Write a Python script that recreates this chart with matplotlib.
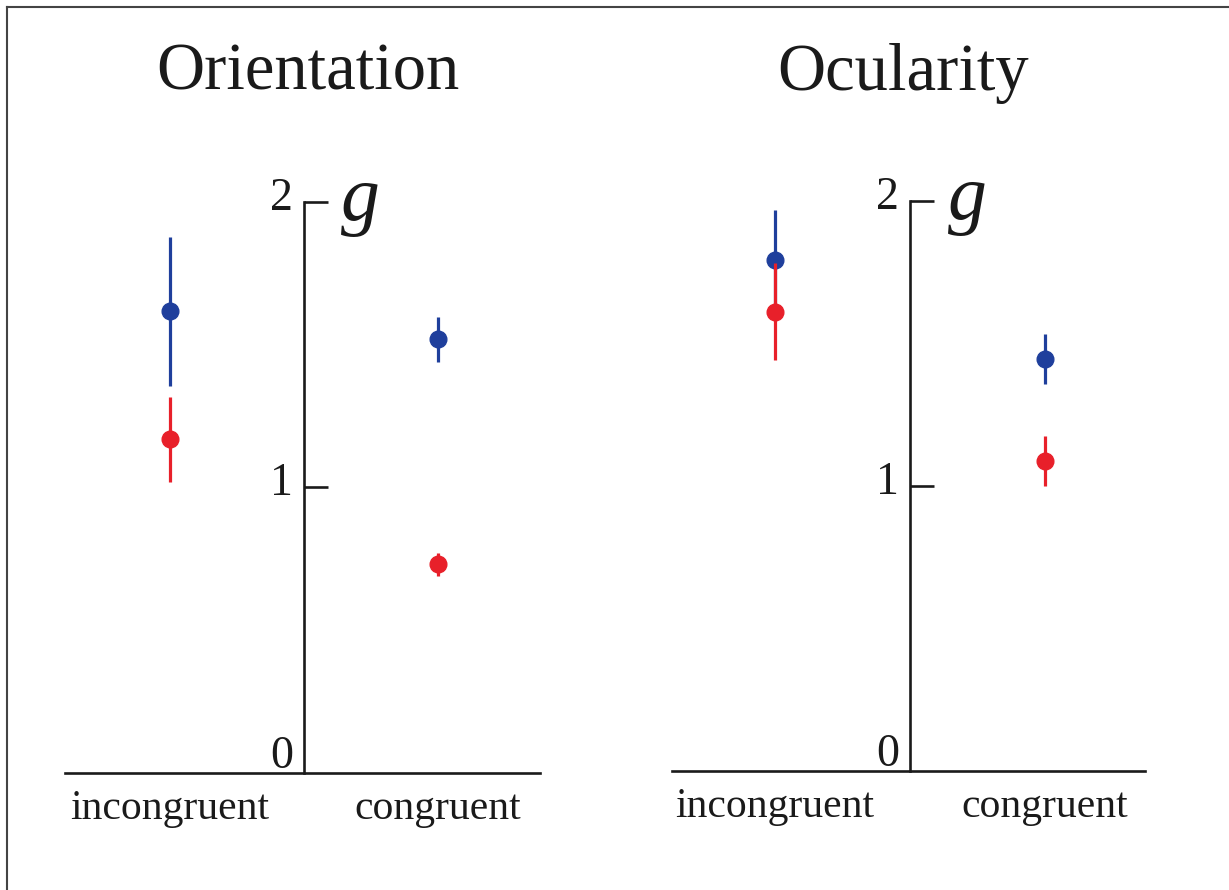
"""Gain g for incongruent vs congruent conditions, orientation and ocularity panels."""

import matplotlib
matplotlib.use('Agg')
import matplotlib.pyplot as plt
from matplotlib.lines import Line2D
import numpy as np

## Constants
FIG_W, FIG_H = 1229, 890
DPI = 100
BLUE = '#1f3f9c'
RED = '#e8202a'
AXIS_COLOR = '#1a1a1a'

plt.rcParams['font.family'] = ['Liberation Serif', 'DejaVu Serif']

## Data
panels = ['Orientation', 'Ocularity']
conditions = ['incongruent', 'congruent']
y_ticks = [0, 1, 2]

# blue series: mean, lower end, upper end of error bar
blue_mean = [[1.618, 1.518], [1.792, 1.444]]
blue_low = [[1.356, 1.437], [1.617, 1.357]]
blue_high = [[1.876, 1.597], [1.967, 1.532]]

# red series
red_mean = [[1.169, 0.731], [1.611, 1.087]]
red_low = [[1.018, 0.690], [1.441, 1.000]]
red_high = [[1.317, 0.771], [1.781, 1.173]]

# axes placement in pixels: left, right, y of 0, y of 2
boxes = [(65, 540, 772.9, 201.7), (672, 1145, 770.7, 200.7)]
x_ranges = [(-0.39, 1.38), (-0.381, 1.37)]
title_x = [308, 903]


fig = plt.figure(figsize=(FIG_W / DPI, FIG_H / DPI), dpi=DPI)

# frame (only top and left edges are visible in the picture)
fig.add_artist(Line2D([7 / FIG_W, 7 / FIG_W], [0, 1 - 7 / FIG_H], color='#444444', lw=1.5))
fig.add_artist(Line2D([7 / FIG_W, 1], [1 - 7 / FIG_H, 1 - 7 / FIG_H], color='#444444', lw=1.5))

for p in range(len(panels)):
    left, right, y0, y2 = boxes[p]
    ax = fig.add_axes([left / FIG_W, (FIG_H - y0) / FIG_H,
                       (right - left) / FIG_W, (y0 - y2) / FIG_H])
    ax.set_xlim(*x_ranges[p])
    ax.set_ylim(0, 2)
    ax.patch.set_alpha(0)

    xs = np.arange(len(conditions))
    bm = np.array(blue_mean[p])
    rm = np.array(red_mean[p])
    ax.errorbar(xs, bm, yerr=[bm - np.array(blue_low[p]), np.array(blue_high[p]) - bm],
                fmt='o', color=BLUE, ms=12, elinewidth=2.3, capsize=0, clip_on=False, zorder=3)
    ax.errorbar(xs, rm, yerr=[rm - np.array(red_low[p]), np.array(red_high[p]) - rm],
                fmt='o', color=RED, ms=12, elinewidth=2.3, capsize=0, clip_on=False, zorder=4)

    # spines: vertical axis between the two conditions, baseline at 0
    for s in ['top', 'right']:
        ax.spines[s].set_visible(False)
    ax.spines['left'].set_position(('data', 0.5))
    ax.spines['left'].set_bounds(0, 2)
    ax.spines['left'].set_linewidth(1.9)
    ax.spines['left'].set_color(AXIS_COLOR)
    ax.spines['bottom'].set_linewidth(1.9)
    ax.spines['bottom'].set_color(AXIS_COLOR)

    ax.set_yticks([1, 2])
    ax.set_yticklabels([])
    ax.tick_params(axis='y', direction='in', length=17, width=1.9, color=AXIS_COLOR)
    for t in y_ticks:
        off = 0.017 if t == 0 else -0.028
        ax.text(0.5 - 0.04, t + off, str(t), ha='right', va='baseline',
                fontsize=33, color=AXIS_COLOR)

    ax.set_xticks(xs)
    ax.set_xticklabels(conditions, fontsize=30, color=AXIS_COLOR)
    ax.tick_params(axis='x', length=0, pad=12)

    ax.text(0.64, 1.936, 'g', fontsize=56, fontstyle='italic', ha='left',
            va='baseline', color=AXIS_COLOR)

    fig.text(title_x[p] / FIG_W, 1 - 90 / FIG_H, panels[p], fontsize=48,
             ha='center', va='baseline', color=AXIS_COLOR)

fig.savefig('out.png', dpi=DPI)
